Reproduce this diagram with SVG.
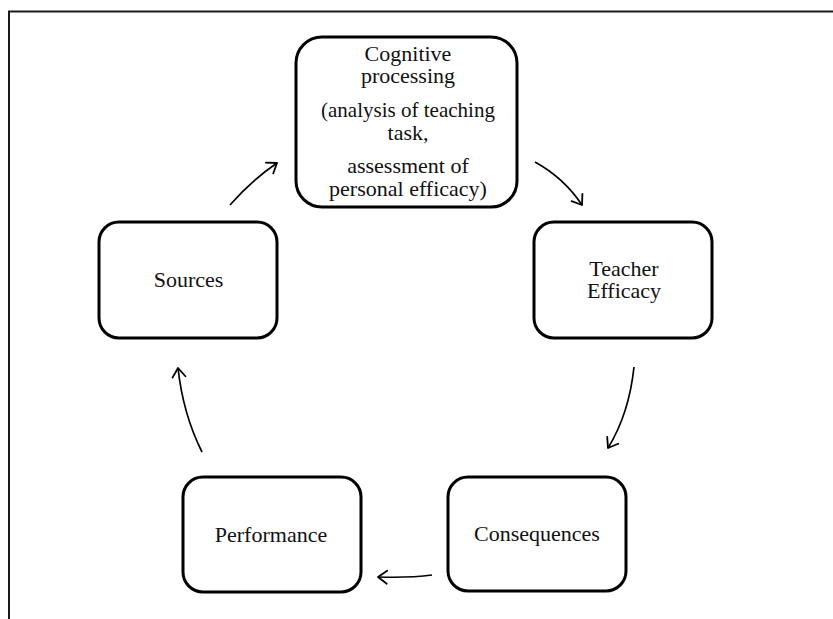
<svg xmlns="http://www.w3.org/2000/svg" width="833" height="619" viewBox="0 0 833 619">
<style>
.box{fill:#fff;stroke:#000;stroke-width:3}
.t{font-family:"Liberation Serif","Times New Roman",serif;font-size:22px;fill:#111;text-anchor:middle}
.c{fill:none;stroke:#000;stroke-width:1.7}
.frame{fill:none;stroke:#1a1a1a;stroke-width:2}
</style>
<defs>
<marker id="ah" markerUnits="userSpaceOnUse" markerWidth="20" markerHeight="20" refX="0" refY="0" viewBox="-12 -10 14 20" orient="auto">
<path d="M-9,-6.5 L0,0 L-9,6.5" fill="none" stroke="#000" stroke-width="1.8" stroke-linecap="round" stroke-linejoin="round"/>
</marker>
</defs>
<rect width="833" height="619" fill="#fff"/>
<path class="frame" d="M9,619 L9,11.5 L833,11.5"/>
<g id="connectors">
<path class="c" d="M230,205 Q252,180 277,163" marker-end="url(#ah)"/>
<path class="c" d="M535,162 Q564,178 582,205" marker-end="url(#ah)"/>
<path class="c" d="M634,367 Q629,414 608,448" marker-end="url(#ah)"/>
<path class="c" d="M432,575 Q410,578 378,577" marker-end="url(#ah)"/>
<path class="c" d="M202,452 Q183,414 178,368" marker-end="url(#ah)"/>
</g>
<g id="cognitive">
<rect class="box" x="296" y="37" width="221" height="170" rx="26"/>
<text class="t" x="408" y="61">Cognitive</text>
<text class="t" x="408" y="83">processing</text>
<text class="t" x="408" y="117" textLength="174" lengthAdjust="spacingAndGlyphs">(analysis of teaching</text>
<text class="t" x="408" y="140">task,</text>
<text class="t" x="408" y="173">assessment of</text>
<text class="t" x="408" y="196">personal efficacy)</text>
</g>
<g id="teacher">
<rect class="box" x="534" y="222" width="178" height="116" rx="20"/>
<text class="t" x="624" y="276">Teacher</text>
<text class="t" x="624" y="298">Efficacy</text>
</g>
<g id="sources">
<rect class="box" x="99" y="222" width="178" height="116" rx="20"/>
<text class="t" x="188.5" y="287">Sources</text>
</g>
<g id="performance">
<rect class="box" x="183" y="477" width="178" height="115" rx="20"/>
<text class="t" x="271" y="542">Performance</text>
</g>
<g id="consequences">
<rect class="box" x="448" y="477" width="178" height="114" rx="20"/>
<text class="t" x="537" y="541">Consequences</text>
</g>
</svg>
